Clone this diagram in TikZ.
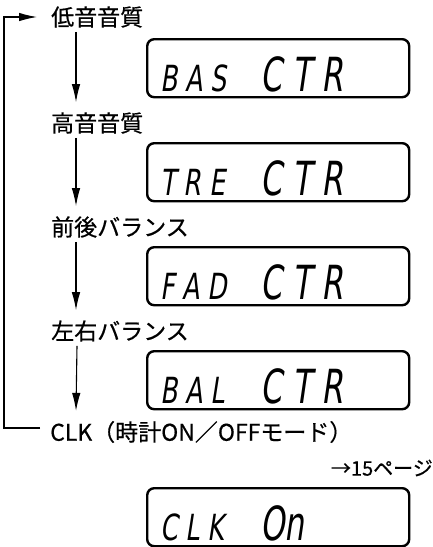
\documentclass[tikz,border=0pt]{standalone}
\usepackage{fontspec}
\setmainfont{DejaVu Sans}
\newfontfamily\jpfont[FakeBold=0.5]{Noto Sans CJK JP}
\newfontfamily\lcdfont[FakeSlant=0.22]{DejaVu Sans}
\usetikzlibrary{arrows.meta}

\tikzset{
  modetext/.style = {anchor=west, inner sep=0pt, font=\jpfont\fontsize{23}{27}\selectfont},
  lcdbox/.style = {draw, line width=2.4pt, rounded corners=7pt, anchor=north west,
                   minimum width=262pt, minimum height=58pt, inner sep=0pt},
  lcdsmall/.style = {anchor=base west, inner sep=0pt, font=\lcdfont\fontsize{36}{40}\selectfont},
  lcdbig/.style = {anchor=base west, inner sep=0pt, font=\lcdfont\fontsize{47}{50}\selectfont},
  flow/.style = {line width=1.1pt, -{Latex[length=18pt,width=8.5pt]}},
}
\newcommand{\lcdsm}[1]{\scalebox{0.7}[1]{#1}}
\newcommand{\lcdbg}[1]{\scalebox{0.66}[1]{#1}}

\begin{document}
\begin{tikzpicture}[x=1pt, y=-1pt]
 \useasboundingbox (0,0) rectangle (433,547);
 % mode names
 \node[modetext] (bas) at (51,17) {低音音質};
 \node[modetext] (tre) at (51,123) {高音音質};
 \node[modetext] (fad) at (51,227) {前後バランス};
 \node[modetext] (bal) at (51,331) {左右バランス};
 \node[modetext] (clk) at (50,432) {CLK（時計ON／OFFモード）};
 \node[modetext, anchor=east, font=\jpfont\fontsize{20}{24}\selectfont] (page) at (433,468) {→15ページ};

 % displays
 \node[lcdbox] (basbox) at (146,38) {};
 \node[lcdsmall] (bas-l) at ([xshift=14pt,yshift=7pt]basbox.south west) {\lcdsm{B A S}};
 \node[lcdbig] (bas-r) at ([xshift=114pt,yshift=7pt]basbox.south west) {\lcdbg{C\,\,T\,\,R}};
 \node[lcdbox] (trebox) at (146,142) {};
 \node[lcdsmall] (tre-l) at ([xshift=14pt,yshift=7pt]trebox.south west) {\lcdsm{T R E}};
 \node[lcdbig] (tre-r) at ([xshift=114pt,yshift=7pt]trebox.south west) {\lcdbg{C\,\,T\,\,R}};
 \node[lcdbox] (fadbox) at (146,246) {};
 \node[lcdsmall] (fad-l) at ([xshift=14pt,yshift=7pt]fadbox.south west) {\lcdsm{F A D}};
 \node[lcdbig] (fad-r) at ([xshift=114pt,yshift=7pt]fadbox.south west) {\lcdbg{C\,\,T\,\,R}};
 \node[lcdbox] (balbox) at (146,350) {};
 \node[lcdsmall] (bal-l) at ([xshift=14pt,yshift=7pt]balbox.south west) {\lcdsm{B A L}};
 \node[lcdbig] (bal-r) at ([xshift=114pt,yshift=7pt]balbox.south west) {\lcdbg{C\,\,T\,\,R}};
 \node[lcdbox] (clkbox) at (146,487) {};
 \node[lcdsmall] (clk-l) at ([xshift=14pt,yshift=7pt]clkbox.south west) {\lcdsm{C L K}};
 \node[lcdbig] (clk-r) at ([xshift=114pt,yshift=7pt]clkbox.south west) {\lcdbg{On}};

 % order of the modes
 \draw[flow] ([xshift=25pt,yshift=-4pt]bas.south west) -- ([xshift=25pt,yshift=10pt]tre.north west);
 \draw[flow] ([xshift=25pt,yshift=-4pt]tre.south west) -- ([xshift=25pt,yshift=10pt]fad.north west);
 \draw[flow] ([xshift=25pt,yshift=-4pt]fad.south west) -- ([xshift=25pt,yshift=10pt]bal.north west);
 \draw[flow] ([xshift=26pt,yshift=-4pt]bal.south west) -- ([xshift=26pt,yshift=10pt]clk.north west);

 % back to the first mode
 \coordinate (loopbot) at (4,428);
 \coordinate (looptop) at (4,17);
 \draw[flow] ([xshift=-10pt,yshift=4pt]clk.west) -- (loopbot) -- (looptop) -- ([xshift=-14pt]bas.west);
\end{tikzpicture}
\end{document}
